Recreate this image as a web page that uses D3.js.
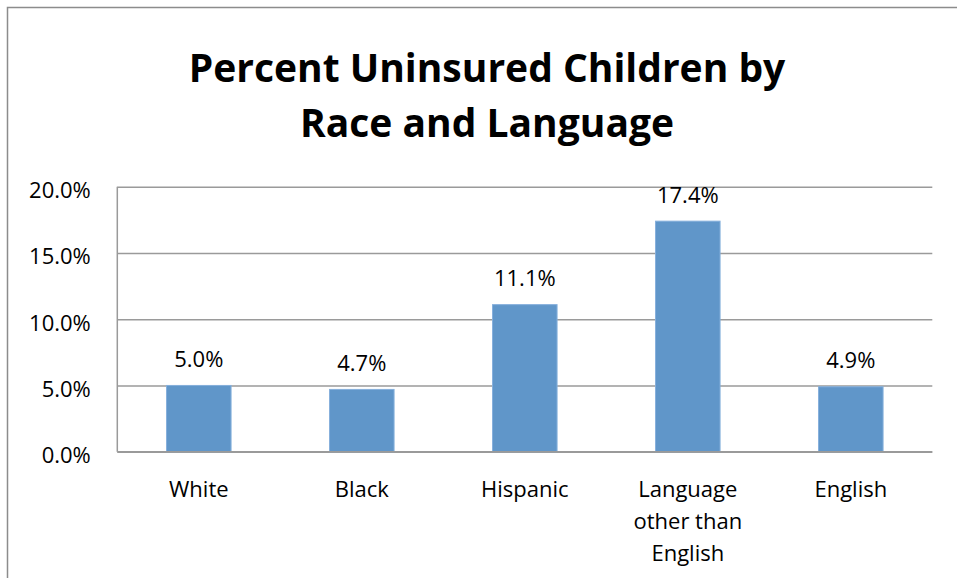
<!DOCTYPE html>
<html>
<head>
<meta charset="utf-8">
<script src="https://cdn.jsdelivr.net/npm/d3@7"></script>
<style>
  html, body { margin: 0; padding: 0; background: #fff; }
  svg { display: block; }
  text { font-family: "Open Sans", "Noto Sans", sans-serif; fill: #000; }
</style>
</head>
<body>
<svg id="chart" width="957" height="578"></svg>
<script>
// Uninsured children, percent, by race and by home language
const categories = ["White", "Black", "Hispanic", "Language other than English", "English"];
const categoryLines = [["White"], ["Black"], ["Hispanic"], ["Language", "other than", "English"], ["English"]];
const values = [5.0, 4.7, 11.1, 17.4, 4.9];
const yTicks = [0, 5, 10, 15, 20];
const titleLines = ["Percent Uninsured Children by", "Race and Language"];

const svg = d3.select("#chart");

// outer chart frame (continues past the window on the right and bottom)
svg.append("rect")
  .attr("x", 7.5).attr("y", 7.5)
  .attr("width", 1000).attr("height", 700)
  .attr("fill", "none")
  .attr("stroke", "#8c8c8c")
  .attr("stroke-width", 1.5);

const plot = { left: 117.3, right: 932.3, top: 186.7, bottom: 451.7 };

const x = d3.scaleBand()
  .domain(categories)
  .range([plot.left, plot.right])
  .paddingInner(0.604)
  .paddingOuter(0.302);

const y = d3.scaleLinear()
  .domain([0, 20])
  .range([plot.bottom, plot.top]);

// title
svg.append("g")
  .selectAll("text")
  .data(titleLines)
  .join("text")
  .attr("x", 487)
  .attr("y", (d, i) => 82 + i * 55)
  .attr("text-anchor", "middle")
  .attr("font-size", 39)
  .attr("font-weight", "bold")
  .text(d => d);

// horizontal gridlines
const yAxis = d3.axisLeft(y)
  .tickValues(yTicks)
  .tickSize(-(plot.right - plot.left))
  .tickPadding(0)
  .tickFormat(d => d3.format(".1f")(d) + "%");

const gy = svg.append("g")
  .attr("transform", `translate(${plot.left},0)`)
  .call(yAxis);
gy.select(".domain").remove();
gy.selectAll(".tick line")
  .attr("stroke", "#9a9a9a")
  .attr("stroke-width", 1.5);
gy.selectAll(".tick text")
  .attr("x", -26.5)
  .attr("dy", null)
  .attr("y", 11)
  .attr("font-size", 22)
  .attr("font-family", "Open Sans")
  .attr("fill", "#000")
  .attr("text-anchor", "end");

// vertical value axis line
svg.append("line")
  .attr("x1", plot.left).attr("x2", plot.left)
  .attr("y1", plot.top).attr("y2", plot.bottom)
  .attr("stroke", "#9a9a9a")
  .attr("stroke-width", 1.5);

// bars
svg.append("g")
  .selectAll("rect")
  .data(values)
  .join("rect")
  .attr("x", (d, i) => x(categories[i]))
  .attr("y", d => y(d))
  .attr("width", x.bandwidth())
  .attr("height", d => y(0) - y(d))
  .attr("fill", "#6096c9")
  .attr("stroke", "#86b0dc")
  .attr("stroke-width", 1);

// category axis baseline drawn over the bars
svg.append("line")
  .attr("x1", plot.left).attr("x2", plot.right)
  .attr("y1", plot.bottom).attr("y2", plot.bottom)
  .attr("stroke", "#9a9a9a")
  .attr("stroke-width", 1.5);

// value labels
svg.append("g")
  .selectAll("text")
  .data(values)
  .join("text")
  .attr("x", (d, i) => x(categories[i]) + x.bandwidth() / 2)
  .attr("y", d => y(d) - 18.5)
  .attr("text-anchor", "middle")
  .attr("font-size", 22)
  .text(d => d3.format(".1f")(d) + "%");

// category labels, wrapped
const cat = svg.append("g")
  .selectAll("text")
  .data(categories)
  .join("text")
  .attr("text-anchor", "middle")
  .attr("font-size", 22);
cat.each(function(d, i) {
  const cx = x(d) + x.bandwidth() / 2;
  d3.select(this).selectAll("tspan")
    .data(categoryLines[i])
    .join("tspan")
    .attr("x", cx)
    .attr("y", (l, j) => 497 + j * 32)
    .text(l => l);
});
</script>
</body>
</html>
